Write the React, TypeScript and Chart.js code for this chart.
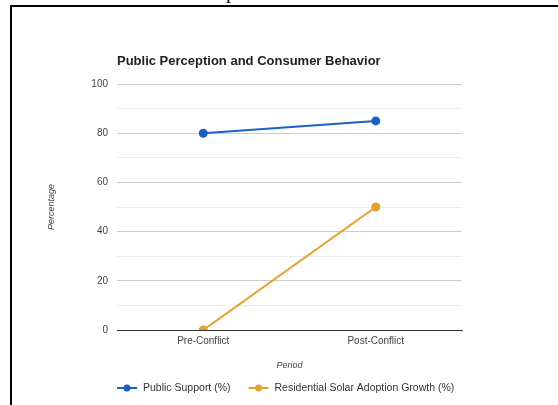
import React, { useEffect, useRef } from "react";
import { Chart, registerables } from "chart.js";

Chart.register(...registerables);

const periods = ["Pre-Conflict", "Post-Conflict"];
const publicSupport = [80, 85];
const solarAdoptionGrowth = [0, 50];
const seriesNames = ["Public Support (%)", "Residential Solar Adoption Growth (%)"];
const seriesColors = ["#1d5fc8", "#e4a02c"];

const chartTitle = "Public Perception and Consumer Behavior";
const xAxisTitle = "Period";
const yAxisTitle = "Percentage";

const FONT = "Arial, 'Liberation Sans', sans-serif";

// Title, axis titles and legend, placed relative to the chart area
const decorations = {
  id: "decorations",
  afterDraw(chart: any) {
    const { ctx, chartArea } = chart;
    ctx.save();

    ctx.fillStyle = "#222";
    ctx.font = `bold 13px ${FONT}`;
    ctx.textAlign = "left";
    ctx.textBaseline = "middle";
    ctx.fillText(chartTitle, chartArea.left, chartArea.top - 23);

    ctx.fillStyle = "#444";
    ctx.font = `italic 9px ${FONT}`;
    ctx.textAlign = "center";
    ctx.fillText(xAxisTitle, (chartArea.left + chartArea.right) / 2, chartArea.bottom + 35);

    ctx.save();
    ctx.translate(51, (chartArea.top + chartArea.bottom) / 2);
    ctx.rotate(-Math.PI / 2);
    ctx.fillText(yAxisTitle, 0, 0);
    ctx.restore();

    // legend
    const ly = chartArea.bottom + 58;
    let x = chartArea.left;
    ctx.font = `10.5px ${FONT}`;
    ctx.textAlign = "left";
    chart.data.datasets.forEach((ds: any) => {
      ctx.strokeStyle = ds.borderColor;
      ctx.fillStyle = ds.borderColor;
      ctx.lineWidth = 2;
      ctx.beginPath();
      ctx.moveTo(x, ly);
      ctx.lineTo(x + 20, ly);
      ctx.stroke();
      ctx.beginPath();
      ctx.arc(x + 10, ly, 3.5, 0, Math.PI * 2);
      ctx.fill();
      x += 26;
      ctx.fillStyle = "#333";
      ctx.fillText(ds.label, x, ly);
      x += ctx.measureText(ds.label).width + 18;
    });

    ctx.restore();
  },
};

export default function App() {
  const canvasRef = useRef<HTMLCanvasElement | null>(null);

  useEffect(() => {
    if (!canvasRef.current) return;
    const chart = new Chart(canvasRef.current, {
      type: "line",
      data: {
        labels: periods,
        datasets: [
          {
            label: seriesNames[0],
            data: publicSupport,
            borderColor: seriesColors[0],
            backgroundColor: seriesColors[0],
            borderWidth: 2,
            pointRadius: 3.5,
            pointHoverRadius: 3.5,
          },
          {
            label: seriesNames[1],
            data: solarAdoptionGrowth,
            borderColor: seriesColors[1],
            backgroundColor: seriesColors[1],
            borderWidth: 2,
            pointRadius: 3.5,
            pointHoverRadius: 3.5,
          },
        ],
      },
      options: {
        responsive: false,
        animation: false,
        layout: { padding: { top: 84, right: 96, bottom: 55, left: 0 } },
        plugins: {
          legend: { display: false },
          title: { display: false },
          tooltip: { enabled: false },
        },
        scales: {
          x: {
            offset: true,
            afterFit: (scale: any) => {
              scale.height = 20;
            },
            grid: { display: false, drawTicks: false },
            border: { display: true, color: "#333", width: 1 },
            ticks: {
              padding: 5,
              color: "#444",
              font: { family: FONT, size: 10 },
              maxRotation: 0,
            },
          },
          y: {
            min: 0,
            max: 100,
            afterFit: (scale: any) => {
              scale.width = 117;
            },
            grid: {
              drawTicks: false,
              color: (c: any) =>
                c.tick.value === 0 ? "#333" : c.tick.value % 20 === 0 ? "#cccccc" : "#ececec",
            },
            border: { display: false },
            ticks: {
              stepSize: 10,
              padding: 9,
              color: "#444",
              font: { family: FONT, size: 10 },
              callback: (v: any) => (Number(v) % 20 === 0 ? String(v) : ""),
            },
          },
        },
      },
      plugins: [decorations],
    });
    return () => chart.destroy();
  }, []);

  return (
    <div
      style={{
        position: "fixed",
        left: 0,
        top: 0,
        width: 558,
        height: 405,
        background: "#fff",
        overflow: "hidden",
      }}
    >
      <div
        style={{
          position: "absolute",
          left: 226,
          top: -19,
          fontFamily: "'Liberation Serif', serif",
          fontSize: 20,
          lineHeight: "20px",
          color: "#000",
        }}
      >
        p
      </div>
      <div
        style={{
          position: "absolute",
          left: 10,
          top: 5,
          width: 600,
          height: 500,
          borderTop: "2px solid #000",
          borderLeft: "2px solid #000",
        }}
      />
      <canvas
        ref={canvasRef}
        width={558}
        height={405}
        style={{ position: "absolute", left: 0, top: 0 }}
      />
    </div>
  );
}
